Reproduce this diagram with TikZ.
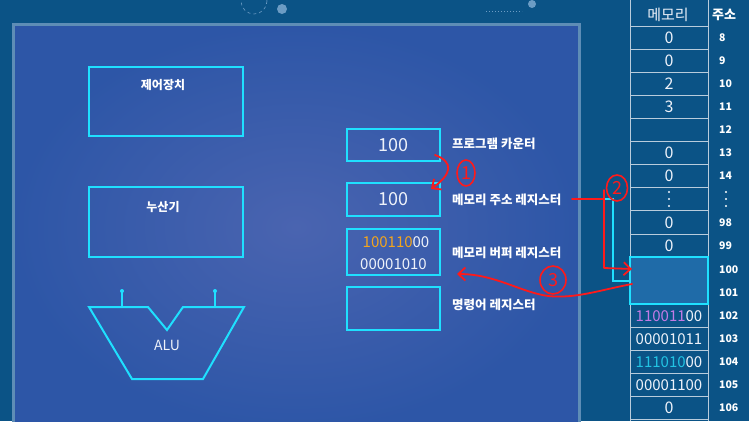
\documentclass[tikz,border=0pt]{standalone}
\usepackage{fontspec}
\setmainfont{Noto Sans CJK KR}
\usetikzlibrary{calc,arrows.meta,shapes.geometric}
\definecolor{bgc}{HTML}{0B5386}
\definecolor{panelA}{HTML}{2D56A7}
\definecolor{panelB}{HTML}{4A64B0}
\definecolor{panelEdge}{HTML}{5E8DB6}
\definecolor{cyn}{HTML}{1FE0FF}
\definecolor{memline}{HTML}{B9CCDC}
\definecolor{hl}{HTML}{1F6BA8}
\definecolor{org}{HTML}{F2A51E}
\definecolor{vio}{HTML}{C27BE6}
\definecolor{tq}{HTML}{22C3E3}
\definecolor{redpen}{HTML}{FF1A1A}
\definecolor{txt}{HTML}{EEF2FA}
\definecolor{deco}{HTML}{6C9CC4}
\begin{document}
\begin{tikzpicture}[x=1pt,y=-1pt,
  unitbox/.style={draw=cyn,line width=2.2pt,inner sep=0pt},
  unitlbl/.style={text=white,font=\fontsize{12}{14}\selectfont\bfseries},
  regnum/.style={text=txt,font=\fontsize{18}{20}\selectfont},
  bintxt/.style={text=txt,font=\fontsize{15}{17}\selectfont},
  reglbl/.style={anchor=west,text=white,inner sep=0pt,font=\fontsize{12.5}{14}\selectfont\bfseries},
  memtxt/.style={text=txt,inner sep=0pt,font=\fontsize{16}{18}\selectfont},
  membin/.style={text=txt,inner sep=0pt,font=\fontsize{15}{17}\selectfont},
  addrtxt/.style={anchor=west,text=white,inner sep=0pt,font=\fontsize{10.5}{12}\selectfont\bfseries},
  memrule/.style={draw=memline,line width=0.9pt},
  pen/.style={draw=redpen,line width=1.8pt,line cap=round,line join=round},
  penarrow/.style={pen,-{Straight Barb[length=7pt,width=13pt]}},
  pencircle/.style={draw=redpen,line width=1.6pt,ellipse,inner sep=0pt,text=redpen,font=\fontsize{18}{18}\selectfont},
  linkline/.style={draw=cyn,line width=2pt}
]
\useasboundingbox (0,0) rectangle (749,421);
\clip (0,0) rectangle (749,421);
% background
\fill[bgc] (0,0) rectangle (749,421);
% top decorations
\draw[deco,dashed,line width=0.6pt] (254,1) circle (13);
\fill[deco] (282,9) circle (5);
\draw[deco,dotted,line width=1pt] (486,11) -- (522,11);
\fill[deco] (532,4) circle (4);
% panel
\shade[inner color=panelB,outer color=panelA] (13,24) rectangle (579,430);
\draw[panelEdge,line width=3pt] (13,430) -- (13,24) -- (579,24) -- (579,430);

% control unit and accumulator
\node[unitbox,minimum width=154pt,minimum height=69pt] (cu) at (166,101.5) {};
\node[unitlbl] (cut) at (163,85) {제어장치};
\node[unitbox,minimum width=154pt,minimum height=70pt] (acc) at (166,222) {};
\node[unitlbl] (acct) at (163,207) {누산기};

% ALU
\draw[cyn,line width=2pt,line join=miter] (89,307) -- (148,307) -- (167,330) -- (183,307) -- (244,307) -- (203,379) -- (132,379) -- cycle;
\draw[cyn,line width=2pt] (122,307) -- (122,291);
\draw[cyn,line width=2pt] (215,307) -- (215,291);
\fill[cyn] (122,291) circle (2);
\fill[cyn] (215,291) circle (2);
\node[text=txt,font=\fontsize{14}{16}\selectfont] (alu) at (167,345) {ALU};

% registers
\node[unitbox,minimum width=93pt,minimum height=32pt] (pc) at (393.5,145) {};
\node[regnum] (pcv) at (pc) {100};
\node[unitbox,minimum width=93pt,minimum height=33pt] (mar) at (393.5,199.5) {};
\node[regnum] (marv) at (mar) {100};
\node[unitbox,minimum width=93pt,minimum height=46pt] (mbr) at (393.5,252) {};
\node[bintxt] (mbr1) at (396,242) {\textcolor{org}{100110}00};
\node[bintxt] (mbr2) at (393.5,264) {00001010};
\node[unitbox,minimum width=93pt,minimum height=43pt] (ir) at (393.5,308.5) {};

\node[reglbl] (pcl) at (452,144) {프로그램 카운터};
\node[reglbl] (marl) at (452,200) {메모리 주소 레지스터};
\node[reglbl] (mbrl) at (452,253) {메모리 버퍼 레지스터};
\node[reglbl] (irl) at (452,305) {명령어 레지스터};

% memory table
\node[inner sep=0pt,minimum width=78pt,minimum height=47pt,fill=hl] (hlbox) at (669,280.5) {};
\draw[memrule] (630,0) -- (630,421);
\draw[memrule] (708,0) -- (708,421);
\foreach \yy in {26,49,72,95,118,141,164,187,210,234,257,304,327,350,373,396,419}
  \draw[memrule] (630,\yy) -- (708,\yy);
\draw[cyn,line width=2.5pt] (hlbox.south west) rectangle (hlbox.north east);

\node[text=txt,inner sep=0pt,font=\fontsize{15}{17}\selectfont] (memh) at (668,15) {메모리};
\node[text=white,inner sep=0pt,font=\fontsize{13}{15}\selectfont\bfseries] (addrh) at (724,15) {주소};

\node[memtxt] (m8) at (669,38) {0};
\node[memtxt] (m9) at (669,61) {0};
\node[memtxt] (m10) at (669,84) {2};
\node[memtxt] (m11) at (669,107) {3};
\node[memtxt] (m13) at (669,153) {0};
\node[memtxt] (m14) at (669,176) {0};
\node[memtxt] (m98) at (669,222.5) {0};
\node[memtxt] (m99) at (669,246) {0};
\node[membin] (m102) at (669,316) {\textcolor{vio}{110011}00};
\node[membin] (m103) at (669,339) {00001011};
\node[membin] (m104) at (669,362) {\textcolor{tq}{111010}00};
\node[membin] (m105) at (669,385) {00001100};
\node[memtxt] (m106) at (669,408) {0};
\foreach \yy in {192,199,206} {
  \fill[txt] (669,\yy) circle (1.1);
  \fill[white] (726,\yy) circle (1.1);
}
\foreach \lab/\yy in {8/38,9/61,10/84,11/107,12/130,13/153,14/176,98/223,99/246,100/270,101/293,102/316,103/339,104/362,105/385,106/408}
  \node[addrtxt] (a\lab) at (719,\yy) {\lab};

% cyan link MAR -> memory
\coordinate (lk0) at (579,199);
\coordinate (lk1) at (613,199);
\draw[linkline] (lk0) -- (lk1) |- (hlbox.west);

% red annotations
\coordinate (r1s) at (435,155);
\coordinate (r1e) at (431,189);
\draw[penarrow] (r1s) .. controls (454,162) and (452,174) .. (r1e);
\node[pencircle,minimum width=18pt,minimum height=26pt] (c1) at (466,173) {1};

\coordinate (r2s) at (572,199);
\coordinate (r2a) at (604,199);
\coordinate (r2t) at (604,190);
\coordinate (r2b) at (604,268);
\coordinate (r2e) at (632,269);
\draw[pen] (r2s) -- (r2a);
\draw[penarrow] (r2t) -- (r2b) -- (r2e);
\node[pencircle,minimum width=21pt,minimum height=26pt] (c2) at (617,188) {2};

\coordinate (r3s) at (632,284);
\coordinate (r3m) at (548,296);
\coordinate (r3e) at (457,274);
\draw[penarrow] (r3s) .. controls (600,290) and (575,299) .. (r3m) .. controls (520,292) and (495,274) .. (r3e);
\node[pencircle,minimum width=26pt,minimum height=28pt] (c3) at (553,280) {3};
\end{tikzpicture}
\end{document}
